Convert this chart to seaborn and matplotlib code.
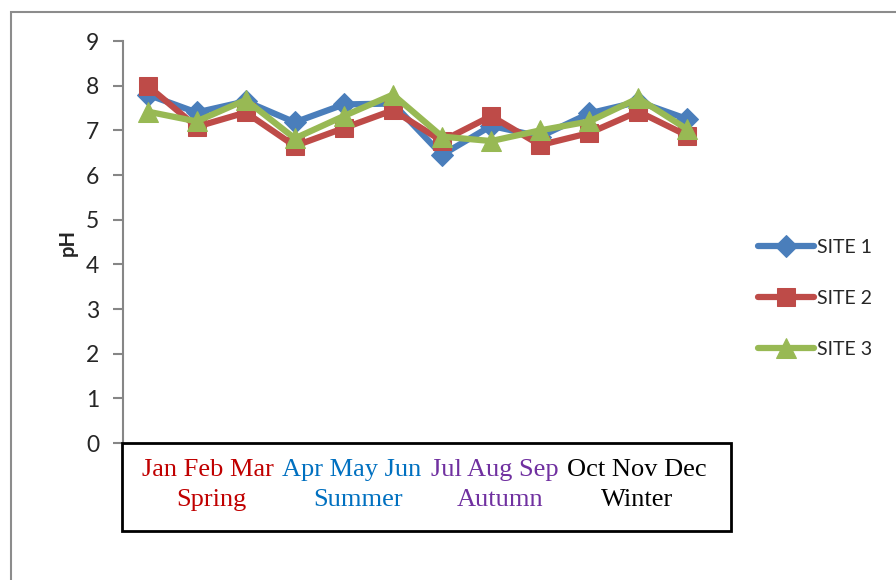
import matplotlib
matplotlib.use("Agg")
import matplotlib.pyplot as plt
from matplotlib.patches import Rectangle
import pandas as pd
import seaborn as sns

# Monthly pH readings at three sampling sites
months = ["Jan", "Feb", "Mar", "Apr", "May", "Jun",
          "Jul", "Aug", "Sep", "Oct", "Nov", "Dec"]
site1 = [7.80, 7.40, 7.65, 7.18, 7.58, 7.60, 6.45, 7.10, 6.86, 7.38, 7.64, 7.25]
site2 = [8.00, 7.08, 7.40, 6.65, 7.05, 7.45, 6.76, 7.32, 6.67, 6.94, 7.42, 6.88]
site3 = [7.42, 7.20, 7.68, 6.82, 7.32, 7.80, 6.86, 6.76, 7.00, 7.20, 7.72, 7.02]
sites = ["SITE 1", "SITE 2", "SITE 3"]
seasons = ["Spring", "Summer", "Autumn", "Winter"]
season_colors = ["#C00000", "#0070C0", "#7030A0", "#000000"]
y_ticks = list(range(0, 10))

df = pd.DataFrame({
    "month": months * 3,
    "pos": list(range(len(months))) * 3,
    "pH": site1 + site2 + site3,
    "site": [s for s in sites for _ in months],
})

sns.set_style("white")
plt.rcParams["font.family"] = ["Lato", "DejaVu Sans"]

W, H = 896, 580
fig = plt.figure(figsize=(W / 100, H / 100), dpi=100)

def fx(px):
    return px / W

def fy(py):
    return 1 - py / H

# outer chart frame
fig.patches.append(Rectangle((fx(11), fy(1000)), fx(1000), fy(12) - fy(1000),
                             transform=fig.transFigure, fill=False,
                             edgecolor="#8C8C8C", linewidth=1.5, zorder=0))

ax = fig.add_axes([fx(123), fy(443), fx(712) - fx(123), fy(41) - fy(443)])

palette = {"SITE 1": "#4A7EBB", "SITE 2": "#BE4B48", "SITE 3": "#98B954"}
markers = {"SITE 1": "D", "SITE 2": "s", "SITE 3": "^"}
sizes_mk = {"SITE 1": 11, "SITE 2": 13, "SITE 3": 14}

for s in sites:
    sub = df[df["site"] == s]
    sns.lineplot(data=sub, x="pos", y="pH", ax=ax, color=palette[s],
                 marker=markers[s], markersize=sizes_mk[s],
                 markeredgecolor=palette[s], linewidth=4.5, label=s,
                 sort=False, estimator=None)

ax.set_xlim(-0.5, len(months) - 0.5)
ax.set_ylim(0, 9)
ax.set_yticks(y_ticks)
ax.set_yticklabels([str(v) for v in y_ticks], fontsize=16.5)
ax.set_xticks([])
ax.set_xlabel("")
ax.set_ylabel("pH", fontsize=14.5, fontweight="bold", labelpad=6)
ax.tick_params(axis="y", which="both", left=True, length=7, width=1.5,
               color="#868686", pad=10)
for side in ["top", "right", "bottom"]:
    ax.spines[side].set_visible(False)
ax.spines["left"].set_color("#868686")
ax.spines["left"].set_linewidth(1.5)
ax.grid(False)

leg = ax.legend(loc="center left", bbox_to_anchor=((750 - 123) / (712 - 123), 0.36),
                frameon=False, fontsize=14, handlelength=2.9,
                labelspacing=1.75, handletextpad=0.15, borderaxespad=0)
for line in leg.get_lines():
    line.set_linewidth(4.5)

# season box beneath the axis
fig.patches.append(Rectangle((fx(122), fy(531)), fx(731) - fx(122), fy(443) - fy(531),
                             transform=fig.transFigure, fill=False,
                             edgecolor="black", linewidth=2, zorder=5))

group_x = [208, 352, 495, 637]
season_x = [211, 358, 500, 637]
for i in range(4):
    label = " ".join(months[3 * i:3 * i + 3])
    fig.text(fx(group_x[i]), fy(470), label, ha="center", va="center",
             fontsize=19, color=season_colors[i],
             family=["Liberation Serif", "DejaVu Serif"])
    fig.text(fx(season_x[i]), fy(500), seasons[i], ha="center", va="center",
             fontsize=19, color=season_colors[i],
             family=["Liberation Serif", "DejaVu Serif"])

fig.savefig("out.png", dpi=100)
